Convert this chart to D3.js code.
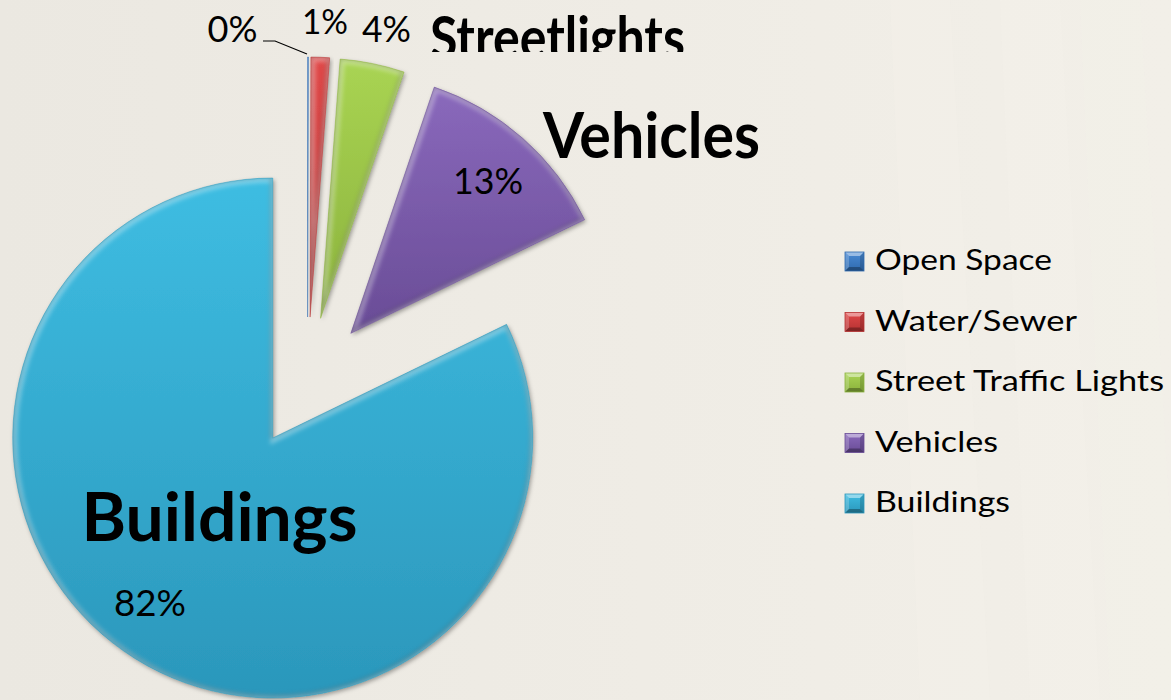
<!DOCTYPE html>
<html>
<head>
<meta charset="utf-8">
<script src="https://cdn.jsdelivr.net/npm/d3@7"></script>
<style>
  html, body { margin: 0; padding: 0; background: #eeebe4; }
  svg { display: block; }
</style>
</head>
<body>
<svg id="chart" width="1171" height="700"></svg>
<script>
// ---------- data ----------
const categories = ["Open Space", "Water/Sewer", "Street Traffic Lights", "Vehicles", "Buildings"];
const values = [0.05, 1.15, 4.0, 12.6, 82.2];
const calloutNames = ["", "", "Streetlights", "Vehicles", "Buildings"];

// ---------- style ----------
const colorsTop = ["#4a8ad4", "#e04848", "#a9d453", "#8a69bc", "#3ebde2"];
const colorsBottom = ["#2f6aae", "#b53232", "#8bb23c", "#694c96", "#2b97bb"];
const W = 1171, H = 700;
const cx = 307.5, cy = 382.5, R = 260, explode = 65.5;
const fontFamily = "Lato, 'Open Sans', 'Noto Sans', sans-serif";

const svg = d3.select("#chart");
const defs = svg.append("defs");

// background
const bg = defs.append("linearGradient").attr("id", "bg").attr("x1", 0).attr("x2", 1).attr("y1", 0).attr("y2", 0);
bg.append("stop").attr("offset", 0).attr("stop-color", "#ebe8e1");
bg.append("stop").attr("offset", 0.55).attr("stop-color", "#efece5");
bg.append("stop").attr("offset", 1).attr("stop-color", "#f2efe8");
svg.append("rect").attr("width", W).attr("height", H).attr("fill", "url(#bg)");
[[890, 950, 0.25], [1000, 1060, 0.3], [1080, 1140, 0.2]].forEach(s => {
  svg.append("path")
    .attr("d", `M${s[0]},0 L${s[1]},0 L${s[1] + 40},${H} L${s[0] + 30},${H} Z`)
    .attr("fill", "#f6f3ec").attr("opacity", s[2]);
});

// filters
const sh = defs.append("filter").attr("id", "shadow").attr("x", "-10%").attr("y", "-10%").attr("width", "130%").attr("height", "130%");
sh.append("feDropShadow").attr("dx", 1.5).attr("dy", 2).attr("stdDeviation", 2).attr("flood-color", "#000").attr("flood-opacity", 0.35);
const blur = defs.append("filter").attr("id", "soft");
blur.append("feGaussianBlur").attr("stdDeviation", 2.2);

categories.forEach((c, i) => {
  const g = defs.append("linearGradient").attr("id", "grad" + i).attr("x1", 0).attr("x2", 0).attr("y1", 0).attr("y2", 1);
  g.append("stop").attr("offset", 0).attr("stop-color", colorsTop[i]);
  g.append("stop").attr("offset", 1).attr("stop-color", colorsBottom[i]);
});

// ---------- pie ----------
const pie = d3.pie().sort(null).value(d => d).startAngle(0).endAngle(2 * Math.PI);
const arcs = pie(values);
const arc = d3.arc().innerRadius(0).outerRadius(R);

const pieG = svg.append("g").attr("transform", `translate(${cx},${cy})`);
const slices = pieG.selectAll("g.slice").data(arcs).join("g")
  .attr("class", "slice")
  .attr("transform", d => {
    const mid = (d.startAngle + d.endAngle) / 2;
    return `translate(${Math.sin(mid) * explode},${-Math.cos(mid) * explode})`;
  });

slices.each(function(d, i) {
  const g = d3.select(this);
  const p = arc(d);
  defs.append("clipPath").attr("id", "clip" + i).append("path").attr("d", p);
  g.append("path").attr("d", p).attr("fill", `url(#grad${i})`).attr("filter", "url(#shadow)");
  const bev = g.append("g").attr("clip-path", `url(#clip${i})`);
  bev.append("path").attr("d", p).attr("fill", "none").attr("stroke", "#ffffff")
    .attr("stroke-opacity", 0.35).attr("stroke-width", 7).attr("filter", "url(#soft)")
    .attr("transform", "translate(1,1)");
  bev.append("path").attr("d", p).attr("fill", "none").attr("stroke", "#000")
    .attr("stroke-opacity", 0.18).attr("stroke-width", 4).attr("filter", "url(#soft)")
    .attr("transform", "translate(-1,-1.5)");
  g.append("path").attr("d", p).attr("fill", "none").attr("stroke", colorsBottom[i]).attr("stroke-opacity", 0.6).attr("stroke-width", 0.8);
});

// ---------- labels ----------
const pct = v => Math.round(v) + "%";
const labelG = svg.append("g").attr("font-family", fontFamily).attr("fill", "#000");

const pctPos = [[232.5, 42], [325, 34], [386.5, 42], [488, 194], [150, 616]];
const pctWidth = [50, 46, 49, 70, 72];
const pctSize = [37, 35, 37, 37, 37];
values.forEach((v, i) => {
  labelG.append("text").attr("x", pctPos[i][0]).attr("y", pctPos[i][1])
    .attr("text-anchor", "middle").attr("font-size", pctSize[i])
    .attr("textLength", pctWidth[i]).attr("lengthAdjust", "spacingAndGlyphs")
    .text(pct(v));
});

labelG.append("polyline").attr("points", "263,41 275,41 307,54")
  .attr("fill", "none").attr("stroke", "#000").attr("stroke-width", 1.2);

defs.append("clipPath").attr("id", "topclip").append("rect").attr("x", 0).attr("y", 0).attr("width", W).attr("height", 52);
const namePos = [null, null, [557.5, 59], [651.5, 158], [219.5, 541]];
const nameWidth = [0, 0, 255, 217, 276];
const nameSize = [0, 0, 60, 64, 66];
calloutNames.forEach((n, i) => {
  if (!n) return;
  const t = labelG.append("text").attr("x", namePos[i][0]).attr("y", namePos[i][1])
    .attr("text-anchor", "middle").attr("font-weight", 700).attr("font-size", nameSize[i])
    .attr("textLength", nameWidth[i]).attr("lengthAdjust", "spacingAndGlyphs")
    .text(n);
  if (i === 2) t.attr("clip-path", "url(#topclip)");
});

// ---------- legend ----------
const legend = svg.append("g").attr("transform", "translate(845,252)");
const rowH = 60.5, box = 19;
const legendWidth = [177, 202, 289, 123, 135];
const rows = legend.selectAll("g").data(categories).join("g")
  .attr("transform", (d, i) => `translate(0,${i * rowH})`);
rows.append("rect").attr("width", box).attr("height", box).attr("fill", (d, i) => `url(#grad${i})`);
rows.append("path").attr("d", `M0,0 L${box},0 L${box - 4},4 L4,4 Z`).attr("fill", "#fff").attr("opacity", 0.45);
rows.append("path").attr("d", `M0,0 L4,4 L4,${box - 4} L0,${box} Z`).attr("fill", "#fff").attr("opacity", 0.2);
rows.append("path").attr("d", `M0,${box} L4,${box - 4} L${box - 4},${box - 4} L${box},${box} Z`).attr("fill", "#000").attr("opacity", 0.3);
rows.append("path").attr("d", `M${box},0 L${box},${box} L${box - 4},${box - 4} L${box - 4},4 Z`).attr("fill", "#000").attr("opacity", 0.15);
rows.append("rect").attr("width", box).attr("height", box).attr("fill", "none").attr("stroke", (d, i) => colorsBottom[i]).attr("stroke-width", 0.8);
rows.append("text").attr("x", 30).attr("y", 18).attr("font-family", fontFamily)
  .attr("font-size", 28).attr("fill", "#000")
  .attr("textLength", (d, i) => legendWidth[i]).attr("lengthAdjust", "spacingAndGlyphs")
  .text(d => d);
</script>
</body>
</html>
